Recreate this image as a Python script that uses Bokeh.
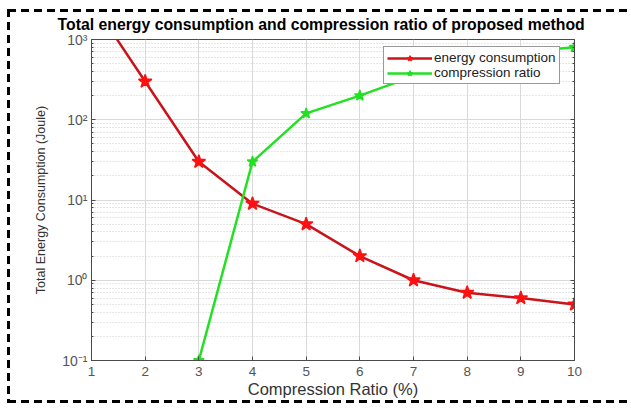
from bokeh.plotting import figure
from bokeh.models import LogAxis, Legend, LegendItem, FixedTicker, InlineStyleSheet
from bokeh.embed import file_html
from bokeh.resources import INLINE

# Compression ratio (%) on the x axis
x_energy = [1, 2, 3, 4, 5, 6, 7, 8, 9, 10]
energy = [3000, 300, 30, 9, 5, 2, 1, 0.7, 0.6, 0.5]

x_ratio = [3, 4, 5, 6, 7, 8, 9, 10]
ratio = [0.1, 30, 120, 200, 350, 500, 700, 800]

x_ticks = [1, 2, 3, 4, 5, 6, 7, 8, 9, 10]
y_ticks = [0.1, 1, 10, 100, 1000]
y_tick_labels = ["10\u207b\u00b9", "10\u2070", "10\u00b9", "10\u00b2", "10\u00b3"]
y_minor = [m * 10.0 ** e for e in range(-1, 3) for m in range(2, 10)]

FONT = "Liberation Sans"
AXIS_GRAY = "#4a4a4a"

p = figure(width=631, height=408, y_axis_type="log",
           x_range=(1, 10), y_range=(0.1, 1000),
           output_backend="svg", toolbar_location=None,
           min_border_left=91, min_border_right=57,
           min_border_top=39, min_border_bottom=48)

p.background_fill_color = "white"
p.border_fill_color = None
p.outline_line_color = AXIS_GRAY
p.outline_line_width = 1

# title
p.title.text = "Total energy consumption and compression ratio of proposed method"
p.title.text_font = FONT
p.title.text_font_size = "15.8px"
p.title.text_font_style = "bold"
p.title.text_color = "black"
p.title.align = "left"
p.title.offset = -34
p.title.standoff = 13

# grids
p.xgrid.ticker = FixedTicker(ticks=x_ticks)
p.xgrid.grid_line_color = "#d9d9d9"
p.ygrid.grid_line_color = "#d9d9d9"
p.ygrid.minor_grid_line_color = "#cfcfcf"
p.ygrid.minor_grid_line_dash = "1 2"

# x axis
p.xaxis.ticker = FixedTicker(ticks=x_ticks)
p.xaxis.axis_label = "Compression Ratio (%)"
p.xaxis.axis_label_text_font = FONT
p.xaxis.axis_label_text_font_size = "16.5px"
p.xaxis.axis_label_text_font_style = "normal"
p.xaxis.axis_label_text_color = "#333333"
p.xaxis.axis_label_standoff = 1
p.xaxis.major_label_text_font = FONT
p.xaxis.major_label_text_font_size = "13.5px"
p.xaxis.major_label_text_color = "#555555"
p.xaxis.major_label_standoff = 6
p.xaxis.axis_line_color = AXIS_GRAY
p.xaxis.major_tick_line_color = AXIS_GRAY
p.xaxis.major_tick_in = 4
p.xaxis.major_tick_out = 0
p.xaxis.minor_tick_line_color = None

# y axis
p.yaxis.ticker = FixedTicker(ticks=y_ticks, minor_ticks=y_minor)
p.yaxis.major_label_overrides = {t: s for t, s in zip(y_ticks, y_tick_labels)}
p.yaxis.axis_label = "Total Energy Consumption (Joule)"
p.yaxis.axis_label_text_font = FONT
p.yaxis.axis_label_text_font_size = "12.5px"
p.yaxis.axis_label_text_font_style = "normal"
p.yaxis.axis_label_text_color = "#333333"
p.yaxis.axis_label_standoff = 11
p.yaxis.major_label_text_font = FONT
p.yaxis.major_label_text_font_size = "14px"
p.yaxis.major_label_text_color = "#555555"
p.yaxis.major_label_standoff = 4
p.yaxis.axis_line_color = AXIS_GRAY
p.yaxis.major_tick_line_color = AXIS_GRAY
p.yaxis.minor_tick_line_color = AXIS_GRAY
p.yaxis.major_tick_in = 4
p.yaxis.major_tick_out = 0
p.yaxis.minor_tick_in = 2
p.yaxis.minor_tick_out = 0

# right-hand box axis with ticks only
right = LogAxis(ticker=FixedTicker(ticks=y_ticks, minor_ticks=y_minor),
                major_label_text_color=None,
                axis_line_color=AXIS_GRAY, major_tick_line_color=AXIS_GRAY,
                minor_tick_line_color=AXIS_GRAY,
                major_tick_in=4, major_tick_out=0, minor_tick_in=2, minor_tick_out=0)
p.add_layout(right, "right")

# series
RED_LINE = "#c8141a"
RED_MARK = "#ff1010"
GREEN = "#22e022"

r_line = p.line(x_energy, energy, line_color=RED_LINE, line_width=2.5)
r_mark = p.scatter(x_energy, energy, marker="star", size=14,
                   fill_color=RED_MARK, line_color=RED_MARK, line_width=1.5)
g_line = p.line(x_ratio, ratio, line_color=GREEN, line_width=2.5)
g_mark = p.scatter(x_ratio, ratio, marker="star", size=11,
                   fill_color=GREEN, line_color=GREEN, line_width=1.5)

legend = Legend(items=[LegendItem(label="energy consumption", renderers=[r_line, r_mark]),
                       LegendItem(label="compression ratio", renderers=[g_line, g_mark])],
                location=(292, 276))
legend.label_text_font = FONT
legend.label_text_font_size = "13.5px"
legend.label_text_color = "#222222"
legend.border_line_color = "#333333"
legend.border_line_width = 1
legend.background_fill_alpha = 1.0
legend.glyph_width = 45
legend.glyph_height = 14
legend.label_height = 14
legend.label_standoff = 2
legend.spacing = 0
legend.padding = 3
legend.margin = 0
p.add_layout(legend)

# dashed outer frame (top, left and bottom edges) painted behind the canvas;
# the left edge is placed from the right so that narrow child elements skip it
p.css_classes = ["dashframe"]
p.stylesheets = [InlineStyleSheet(css="""
:host(.dashframe) {
  background-color: white;
  background-image:
    repeating-linear-gradient(90deg, #000 0 8px, transparent 8px 13px),
    repeating-linear-gradient(180deg, #000 0 8px, transparent 8px 13px),
    repeating-linear-gradient(90deg, #000 0 8px, transparent 8px 13px);
  background-position: 8px 9px, right 621px top 9px, 8px 400px;
  background-size: 640px 3px, 3px 394px, 640px 3px;
  background-repeat: no-repeat;
}
""")]

open("out.html", "w").write(file_html(p, INLINE))
